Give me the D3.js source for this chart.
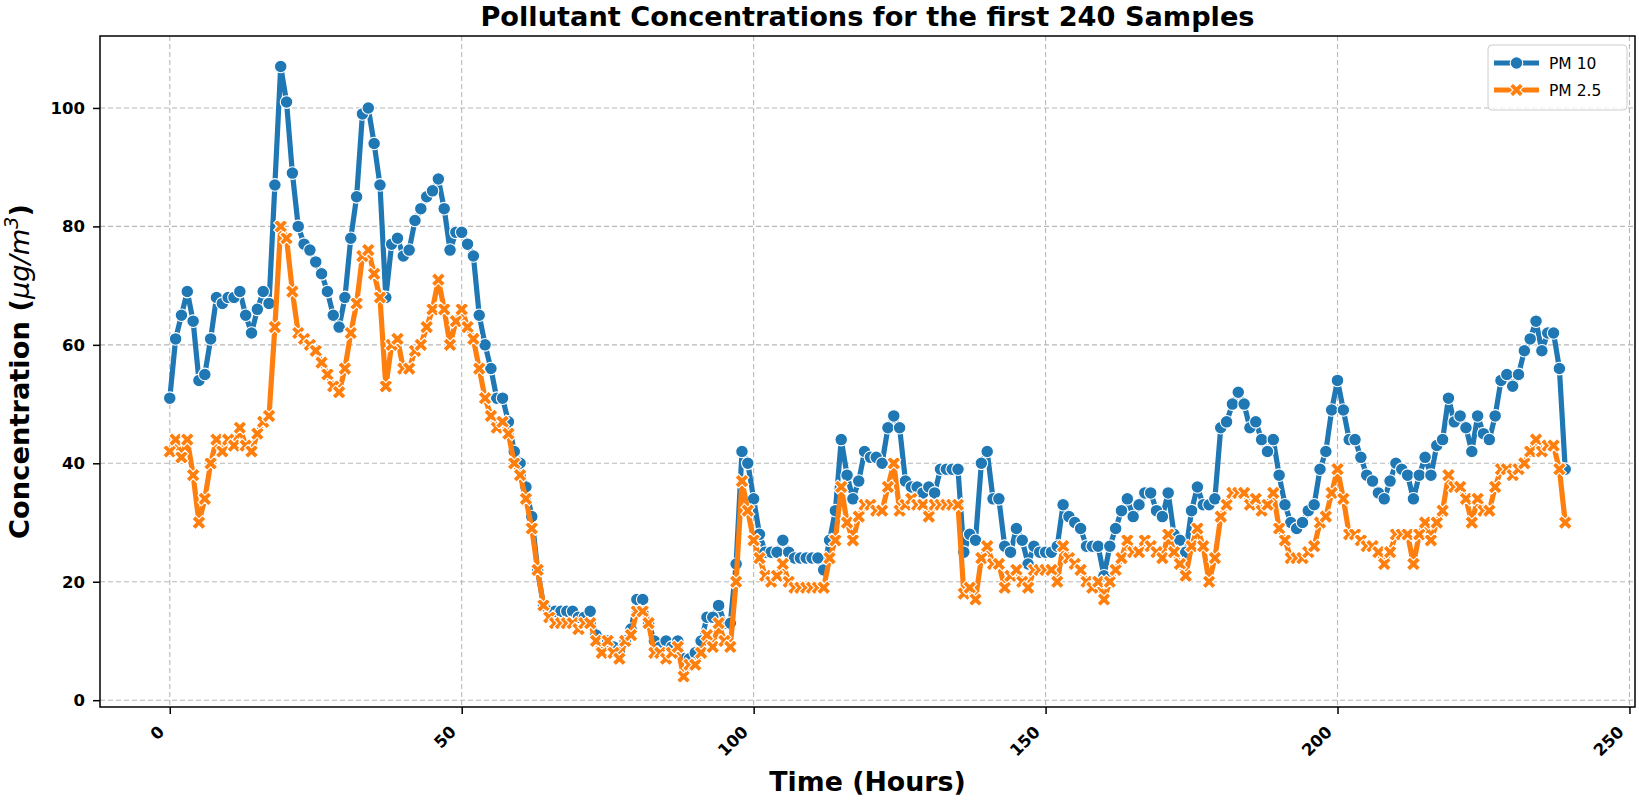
<!DOCTYPE html>
<html><head><meta charset="utf-8">
<script src="https://cdn.jsdelivr.net/npm/d3@7"></script>
<style>body{margin:0;background:#fff} svg{display:block} text{font-family:"DejaVu Sans",sans-serif}</style>
</head><body>
<svg id="chart" width="1639" height="800"></svg>
<script>
const pm10 = [
51,61,65,69,64,54,55,61,68,67,
68,68,69,65,62,66,69,67,87,107,
101,89,80,77,76,74,72,69,65,63,
68,78,85,99,100,94,87,68,77,78,
75,76,81,83,85,86,88,83,76,79,
79,77,75,65,60,56,51,51,47,42,
40,36,31,22,16,15,15,15,15,15,
14,14,15,11,9,10,9,8,10,12,
17,17,13,10,9,10,9,10,7,7,
8,10,14,14,16,13,13,23,42,40,
34,28,25,25,25,27,25,24,24,24,
24,24,22,27,32,44,38,34,37,42,
41,41,40,46,48,46,37,36,36,35,
36,35,39,39,39,39,25,28,27,40,
42,34,34,26,25,29,27,23,26,25,
25,25,26,33,31,30,29,26,26,26,
21,26,29,32,34,31,33,35,35,32,
31,35,28,27,25,32,36,33,33,34,
46,47,50,52,50,46,47,44,42,44,
38,33,30,29,30,32,33,39,42,49,
54,49,44,44,41,38,37,35,34,37,
40,39,38,34,38,41,38,43,44,51,
47,48,46,42,48,45,44,48,54,55,
53,55,59,61,64,59,62,62,56,39];
const pm25 = [
42,44,41,44,38,30,34,40,44,42,
44,43,46,43,42,45,47,48,63,80,
78,69,62,61,60,59,57,55,53,52,
56,62,67,75,76,72,68,53,60,61,
56,56,59,60,63,66,71,66,60,64,
66,63,61,56,51,48,46,47,45,40,
38,34,29,22,16,14,13,13,13,13,
12,13,13,10,8,10,8,7,10,11,
15,15,13,8,8,7,8,9,4,6,
6,8,11,9,13,10,9,20,37,32,
27,24,21,20,21,23,20,19,19,19,
19,19,19,24,27,36,30,27,31,33,
33,32,32,36,40,32,33,34,33,33,
31,33,33,33,33,33,18,19,17,24,
26,23,23,19,21,22,20,19,22,22,
22,22,20,26,24,23,22,20,19,20,
17,20,22,24,27,25,25,27,26,25,
24,28,25,23,21,26,29,26,20,24,
31,33,35,35,35,33,34,32,33,35,
29,27,24,24,24,25,26,30,31,35,
39,34,28,28,27,26,26,25,23,25,
28,28,28,23,28,30,27,30,32,38,
36,36,34,30,34,32,32,36,39,39,
38,39,40,42,44,42,43,43,39,30];
const xTicks = [0,50,100,150,200,250];
const yTicks = [0,20,40,60,80,100];
const seriesNames = ["PM 10","PM 2.5"];
const seriesColors = ["#1f77b4","#ff7f0e"];
const titleText = "Pollutant Concentrations for the first 240 Samples";
const xLabelText = "Time (Hours)";

const svg = d3.select("#chart");
const m = {l:100, r:1635, t:36, b:707};
const n = pm10.length;
const xPad = (n-1)*0.05;
const x = d3.scaleLinear().domain([-xPad, n-1+xPad]).range([m.l, m.r]);
const ext = d3.extent(pm10.concat(pm25));
const yPad = (ext[1]-ext[0])*0.05;
const y = d3.scaleLinear().domain([ext[0]-yPad, ext[1]+yPad]).range([m.b, m.t]);

// grid
const grid = svg.append("g");
grid.selectAll(".gx").data(xTicks).join("line")
  .attr("x1", d=>x(d)).attr("x2", d=>x(d)).attr("y1", m.t).attr("y2", m.b)
  .attr("stroke","#b8b8b8").attr("stroke-width",1.1).attr("stroke-dasharray","5,3");
grid.selectAll(".gy").data(yTicks).join("line")
  .attr("x1", m.l).attr("x2", m.r).attr("y1", d=>y(d)).attr("y2", d=>y(d))
  .attr("stroke","#b8b8b8").attr("stroke-width",1.1).attr("stroke-dasharray","5,3");

// axes
const xAxis = svg.append("g").attr("transform",`translate(0,${m.b})`)
  .call(d3.axisBottom(x).tickValues(xTicks).tickSize(7).tickFormat(d3.format("d")));
xAxis.select(".domain").remove();
xAxis.selectAll(".tick line").attr("stroke","#000").attr("stroke-width",1.5);
xAxis.selectAll(".tick text").attr("font-size",16.5).attr("font-weight","bold").attr("fill","#000")
  .attr("text-anchor","end").attr("y",0).attr("dy",0)
  .attr("transform","translate(-5,26) rotate(-45)");

const yAxis = svg.append("g").attr("transform",`translate(${m.l},0)`)
  .call(d3.axisLeft(y).tickValues(yTicks).tickSize(7).tickPadding(8).tickFormat(d3.format("d")));
yAxis.select(".domain").remove();
yAxis.selectAll(".tick line").attr("stroke","#000").attr("stroke-width",1.5);
yAxis.selectAll(".tick text").attr("font-size",16.5).attr("font-weight","bold").attr("fill","#000");

// frame
svg.append("rect").attr("x",m.l).attr("y",m.t).attr("width",m.r-m.l).attr("height",m.b-m.t)
  .attr("fill","none").attr("stroke","#000").attr("stroke-width",1.5);

// series
const line = d3.line().x((d,i)=>x(i)).y(d=>y(d));
const xPath = s => {
  const p=[[-0.25,0],[-0.5,-0.25],[-0.25,-0.5],[0,-0.25],[0.25,-0.5],[0.5,-0.25],[0.25,0],[0.5,0.25],[0.25,0.5],[0,0.25],[-0.25,0.5],[-0.5,0.25]];
  return "M"+p.map(q=>(q[0]*s).toFixed(2)+","+(q[1]*s).toFixed(2)).join("L")+"Z";
};
const LW = 5.2, R = 6.3, XS = 14;
[pm10, pm25].forEach((data, k) => {
  const g = svg.append("g");
  g.append("path").datum(data).attr("d", line).attr("fill","none")
    .attr("stroke", seriesColors[k]).attr("stroke-width",LW).attr("stroke-linejoin","round").attr("stroke-linecap","round");
  if (k===0) {
    g.selectAll("circle").data(data).join("circle")
      .attr("cx",(d,i)=>x(i)).attr("cy",d=>y(d)).attr("r",R)
      .attr("fill",seriesColors[k]).attr("stroke","#fff").attr("stroke-width",1.1);
  } else {
    g.selectAll("path.mk").data(data).join("path").attr("class","mk")
      .attr("d", xPath(XS)).attr("transform",(d,i)=>`translate(${x(i)},${y(d)})`)
      .attr("fill",seriesColors[k]).attr("stroke","#fff").attr("stroke-width",1.1);
  }
});

// title & labels
svg.append("text").attr("x",(m.l+m.r)/2).attr("y",26).attr("text-anchor","middle")
  .attr("font-size",27.2).attr("font-weight","bold").text(titleText);
svg.append("text").attr("x",(m.l+m.r)/2).attr("y",791).attr("text-anchor","middle")
  .attr("font-size",26.8).attr("font-weight","bold").text(xLabelText);
const yl = svg.append("text").attr("transform",`translate(29,${(m.t+m.b)/2}) rotate(-90)`)
  .attr("text-anchor","middle").attr("font-size",27.3).attr("font-weight","bold");
yl.append("tspan").text("Concentration (");
yl.append("tspan").attr("font-style","italic").attr("font-weight","normal").text("μg/m");
yl.append("tspan").attr("font-style","italic").attr("font-weight","normal").attr("font-size",19).attr("dy",-11).text("3");
yl.append("tspan").attr("dy",11).text(")");

// legend
const lg = svg.append("g");
lg.append("rect").attr("x",1488).attr("y",45).attr("width",139).attr("height",65).attr("rx",4)
  .attr("fill","#fff").attr("fill-opacity",0.8).attr("stroke","#cccccc").attr("stroke-width",1);
seriesNames.forEach((nm,k)=>{
  const yy = 63 + k*27;
  lg.append("line").attr("x1",1494).attr("x2",1539).attr("y1",yy).attr("y2",yy)
    .attr("stroke",seriesColors[k]).attr("stroke-width",LW);
  if (k===0) lg.append("circle").attr("cx",1516.5).attr("cy",yy).attr("r",R).attr("fill",seriesColors[k]).attr("stroke","#fff").attr("stroke-width",1.1);
  else lg.append("path").attr("d",xPath(XS)).attr("transform",`translate(1516.5,${yy})`).attr("fill",seriesColors[k]).attr("stroke","#fff").attr("stroke-width",1.1);
  lg.append("text").attr("x",1549).attr("y",yy+5.5).attr("font-size",15.5).attr("fill","#000").text(nm);
});
</script>
</body></html>
